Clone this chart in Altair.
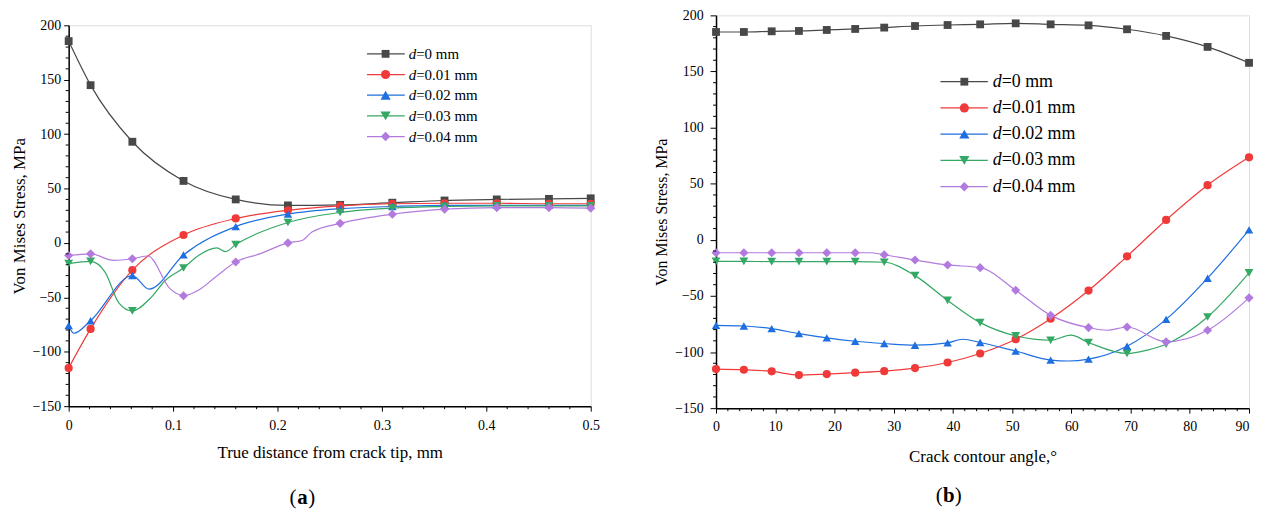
import altair as alt
import pandas as pd

SERIES = ["d=0 mm", "d=0.01 mm", "d=0.02 mm", "d=0.03 mm", "d=0.04 mm"]
LEGEND_REST = ["=0 mm", "=0.01 mm", "=0.02 mm", "=0.03 mm", "=0.04 mm"]
COLORS = ["#484848", "#f03a3a", "#1e6fe0", "#34a865", "#b27ade"]
SHAPES = ["square", "circle", "triangle-up", "triangle-down", "diamond"]
SIZES = [62, 85, 105, 105, 90]

# ---------- panel (a): stress vs distance from crack tip ----------
A_X = [0, 0.021, 0.061, 0.11, 0.16, 0.21, 0.26, 0.31, 0.36, 0.41, 0.46, 0.5]
A_Y0 = [185.5, 145, 93, 57, 40, 34.5, 35, 37, 39, 40, 40.5, 41]
A_Y1 = [-115, -79, -25, 7.3, 22.5, 30, 34, 36, 36.5, 36.5, 36, 36]
A_Y2 = [-76, -71.5, -30, -11, 15, 26.5, 31.5, 33.5, 34.5, 34.5, 34.5, 34.5]
A_Y3 = [-19, -17, -62.5, -23, -1.5, 18.8, 28, 32, 33.5, 34, 34, 34]
A_Y4 = [-11.5, -10, -14.5, -48.5, -17.5, 0, 18, 26.4, 31, 32.5, 32.5, 32]
# additional points of the drawn curves (between markers)
A_EX_X2 = [0.005, 0.077]
A_EX_Y2 = [-83, -42.5]
A_EX_X3 = [0.035, 0.048, 0.078, 0.093, 0.125, 0.142, 0.15]
A_EX_Y3 = [-27, -55, -51, -34, -11, -4.5, -8]
A_EX_X4 = [0.043, 0.076, 0.097, 0.125, 0.141, 0.183, 0.224, 0.233]
A_EX_Y4 = [-16, -12, -42, -43, -31, -10, 2.5, 10]

# ---------- panel (b): stress vs crack contour angle ----------
B_X = [0, 4.7, 9.4, 14.0, 18.7, 23.5, 28.4, 33.6, 39.1, 44.6, 50.6, 56.5, 62.9, 69.4, 76.0, 83.0, 90]
B_Y0 = [185.2, 185.2, 185.8, 186.1, 187, 187.9, 189.1, 190.5, 191.4, 192, 192.9, 192, 191.1, 187.6, 181.7, 171.9, 157.7]
B_Y1 = [-115.2, -115.8, -117.2, -120.5, -119.6, -118.4, -117, -114.3, -109.3, -101.3, -88.6, -70.3, -45.2, -14.7, 17.7, 48.7, 73.5]
B_Y2 = [-76.2, -76.8, -79.1, -83.6, -87.4, -90.4, -92.4, -93.9, -91.8, -91.5, -99.2, -107.2, -106.3, -94.8, -70.9, -34.2, 8.9]
B_Y3 = [-19.2, -19.2, -19.4, -19.4, -19.4, -19.4, -20, -31.9, -54, -73.8, -85.6, -89.5, -91.5, -101.3, -93, -68.8, -29.5]
B_Y4 = [-11.5, -11.5, -11.5, -11.5, -11.5, -11.5, -13.3, -18, -22.4, -24.8, -44.9, -67.3, -78.2, -77.7, -90.9, -80.6, -51.7]
B_EX_X2 = [41.7, 59.5]
B_EX_Y2 = [-88.6, -108]
B_EX_X3 = [59.9, 73]
B_EX_Y3 = [-85, -98]
B_EX_X4 = [26, 66]
B_EX_Y4 = [-11.5, -80.6]

# tick labels and minor tick positions
Y_MAJOR = [-150, -100, -50, 0, 50, 100, 150, 200]
Y_MINOR = [v for v in range(-140, 200, 10) if v % 50 != 0]
A_MAJOR = [0, 0.1, 0.2, 0.3, 0.4, 0.5]
A_MINOR = [0.02, 0.04, 0.06, 0.08, 0.12, 0.14, 0.16, 0.18, 0.22, 0.24, 0.26, 0.28,
           0.32, 0.34, 0.36, 0.38, 0.42, 0.44, 0.46, 0.48]
B_MAJOR = [0, 10, 20, 30, 40, 50, 60, 70, 80, 90]
B_MINOR = [v for v in range(2, 90, 2) if v % 10 != 0]

FONT = "Liberation Serif"


def frames(xs, ys_list, extras):
    pts, lines = [], []
    for s, ys in zip(SERIES, ys_list):
        for x, y in zip(xs, ys):
            pts.append({"series": s, "x": x, "y": y})
            lines.append({"series": s, "x": x, "y": y})
    for s, (ex, ey) in extras.items():
        for x, y in zip(ex, ey):
            lines.append({"series": s, "x": x, "y": y})
    return pd.DataFrame(pts), pd.DataFrame(lines)


def axis(values, tick, label_pad, title, title_pad, title_size, label_size, fmt, last=None):
    extra = {}
    if last is not None:
        extra["labelAlign"] = {"condition": {"test": f"datum.value >= {last}", "value": "right"},
                               "value": "center"}
    return alt.Axis(
        values=values,
        format=fmt,
        tickSize=tick,
        tickColor="black",
        tickWidth=1,
        domainColor="black",
        domainWidth=1.5,
        grid=False,
        labelFont=FONT,
        labelFontSize=label_size,
        labelColor="black",
        labelPadding=label_pad,
        labelFlush=False,
        labelOverlap=False,
        title=title,
        titleFont=FONT,
        titleFontSize=title_size,
        titleFontWeight="normal",
        titleColor="black",
        titlePadding=title_pad,
        **extra,
    )


def legend_layers(x0, x1, xm, xt, y0, dy, fs, dd):
    layers = []
    for i, s in enumerate(SERIES):
        y = y0 + i * dy
        one = pd.DataFrame({"d": ["d"], "rest": [LEGEND_REST[i]]})
        base = alt.Chart(one)
        layers.append(base.mark_rule(color=COLORS[i], strokeWidth=1.2).encode(
            x=alt.value(x0), x2=alt.value(x1), y=alt.value(y)))
        layers.append(base.mark_point(filled=True, opacity=1, size=SIZES[i], shape=SHAPES[i],
                                      color=COLORS[i]).encode(x=alt.value(xm), y=alt.value(y)))
        layers.append(base.mark_text(font=FONT, fontSize=fs, fontStyle="italic", align="left",
                                     baseline="middle", color="black").encode(
            text="d:N", x=alt.value(xt), y=alt.value(y)))
        layers.append(base.mark_text(font=FONT, fontSize=fs, align="left",
                                     baseline="middle", color="black").encode(
            text="rest:N", x=alt.value(xt + dd), y=alt.value(y)))
    return layers


def panel(xs, ys_list, extras, xdom, xmajor, xminor, xfmt, xtitle, xlabpad, xtitlepad, xlast,
          W, H, ytick, ylabpad, ytitlepad, ytitlesize, leg, tag, tagx, tagy):
    pts, lines = frames(xs, ys_list, extras)
    xax = axis(xmajor, 5, xlabpad, xtitle, xtitlepad, 17, 14, xfmt, xlast)
    yax = axis(Y_MAJOR, ytick, ylabpad, "Von Mises Stress, MPa", ytitlepad, ytitlesize, 14, "d")
    xsc = alt.Scale(domain=xdom, nice=False, zero=False)
    ysc = alt.Scale(domain=[-150, 200], nice=False, zero=False)
    xenc = alt.X("x:Q", scale=xsc, axis=xax)
    yenc = alt.Y("y:Q", scale=ysc, axis=yax)
    col = alt.Color("series:N", scale=alt.Scale(domain=SERIES, range=COLORS), legend=None)
    shp = alt.Shape("series:N", scale=alt.Scale(domain=SERIES, range=SHAPES), legend=None)
    siz = alt.Size("series:N", scale=alt.Scale(domain=SERIES, range=SIZES), legend=None)
    line = alt.Chart(lines).mark_line(interpolate="monotone", strokeWidth=1.2).encode(
        x=xenc, y=yenc, color=col, detail="series:N")
    point = alt.Chart(pts).mark_point(filled=True, opacity=1).encode(
        x=xenc, y=yenc, color=col, shape=shp, size=siz)
    # minor ticks (outward, 3 px)
    xmin_t = alt.Chart(pd.DataFrame({"x": xminor})).mark_rule(color="black", strokeWidth=1).encode(
        x=xenc, y=alt.value(H), y2=alt.value(H + 3))
    ymin_t = alt.Chart(pd.DataFrame({"y": Y_MINOR})).mark_rule(color="black", strokeWidth=1).encode(
        y=yenc, x=alt.value(0), x2=alt.value(-3))
    tagdf = pd.DataFrame({"o": ["("], "t": [tag], "c": [")"]})
    tb = alt.Chart(tagdf)
    tags = [
        tb.mark_text(font=FONT, fontSize=21, align="right", baseline="middle", color="black").encode(
            text="o:N", x=alt.value(tagx - 6), y=alt.value(tagy)),
        tb.mark_text(font=FONT, fontSize=21, fontWeight="bold", align="center", baseline="middle",
                     color="black").encode(text="t:N", x=alt.value(tagx), y=alt.value(tagy)),
        tb.mark_text(font=FONT, fontSize=21, align="left", baseline="middle", color="black").encode(
            text="c:N", x=alt.value(tagx + 6), y=alt.value(tagy)),
    ]
    return alt.layer(line, point, xmin_t, ymin_t, *legend_layers(*leg), *tags).properties(width=W, height=H)


left = panel(
    A_X, [A_Y0, A_Y1, A_Y2, A_Y3, A_Y4],
    {SERIES[2]: (A_EX_X2, A_EX_Y2), SERIES[3]: (A_EX_X3, A_EX_Y3), SERIES[4]: (A_EX_X4, A_EX_Y4)},
    [0, 0.5], A_MAJOR, A_MINOR, "~g", "True distance from crack tip, mm", 7, 13, None, 525, 383,
    5, 3, 4, 17, (300, 338, 318.7, 342, 28.7, 20.8, 15, 7.5), "a", 235, 475,
)

right = panel(
    B_X, [B_Y0, B_Y1, B_Y2, B_Y3, B_Y4],
    {SERIES[2]: (B_EX_X2, B_EX_Y2), SERIES[3]: (B_EX_X3, B_EX_Y3), SERIES[4]: (B_EX_X4, B_EX_Y4)},
    [0, 90], B_MAJOR, B_MINOR, "d", "Crack contour angle,°", 6, 16, 90, 536, 395,
    6, 7, 5, 16, (225.7, 273.3, 249.7, 278.3, 66.7, 26.4, 18, 9), "b", 234, 483,
)

# invisible spacer that lowers panel (a) a few pixels relative to panel (b)
spacer = alt.Chart(pd.DataFrame({"s": [0]})).mark_rule(opacity=0, strokeWidth=0.1).encode(
    x=alt.value(0), x2=alt.value(1), y=alt.value(0)
).properties(width=1, height=1, view=alt.ViewBackground(stroke="transparent"))

chart = alt.hconcat(alt.vconcat(spacer, left, spacing=0), right, spacing=52).properties(
    padding={"left": 1, "top": -2, "right": 0, "bottom": 0}
).configure_view(stroke="#555555", strokeWidth=1.5).configure(background="white")

chart.save("out.html", embed_options={"renderer": "svg", "actions": False})
